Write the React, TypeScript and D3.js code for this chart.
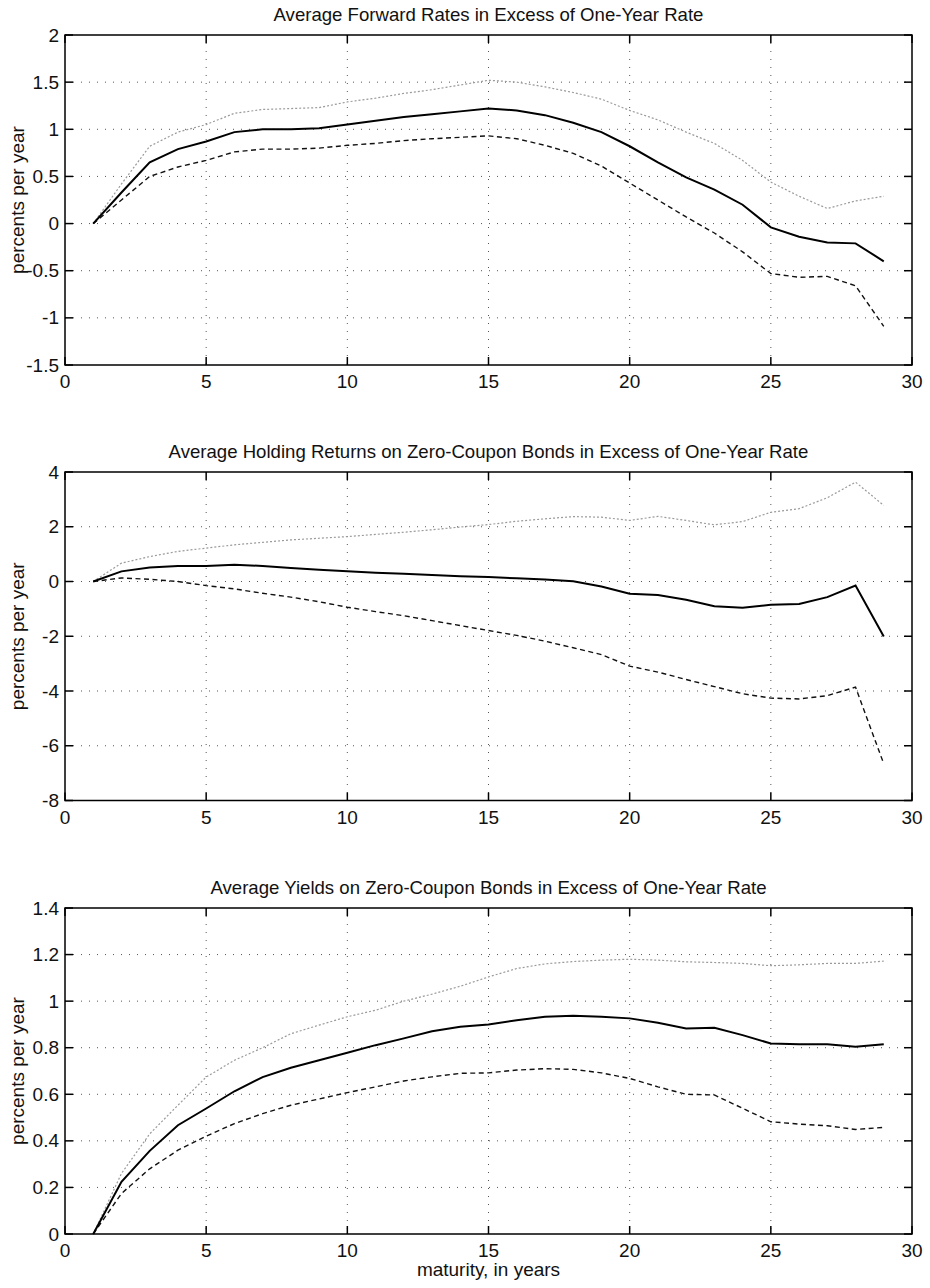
import React from "react";
import * as d3 from "d3";

// maturities in years
const maturities = [
    1, 2, 3, 4, 5, 6, 7, 8, 9, 10, 11, 12, 13, 14, 15, 16, 17, 18, 19, 20, 21,
    22, 23, 24, 25, 26, 27, 28, 29,
];

// panel 1: forward rates
const fwdMean = [
    0, 0.33, 0.65, 0.79, 0.87, 0.97, 1.0, 1.0, 1.01, 1.05, 1.09, 1.13, 1.16,
    1.19, 1.22, 1.2, 1.15, 1.07, 0.97, 0.82, 0.65, 0.49, 0.36, 0.2, -0.04,
    -0.14, -0.2, -0.21, -0.4,
];
const fwdLow = [
    0, 0.25, 0.5, 0.6, 0.67, 0.76, 0.79, 0.79, 0.8, 0.83, 0.85, 0.88, 0.9,
    0.915, 0.93, 0.9, 0.83, 0.745, 0.61, 0.43, 0.25, 0.07, -0.1, -0.3, -0.53,
    -0.57, -0.56, -0.66, -1.09,
];
const fwdHigh = [
    0, 0.42, 0.82, 0.97, 1.05, 1.17, 1.21, 1.22, 1.23, 1.29, 1.33, 1.38, 1.42,
    1.47, 1.52, 1.5, 1.45, 1.39, 1.32, 1.2, 1.1, 0.97, 0.85, 0.67, 0.44, 0.29,
    0.16, 0.24, 0.29,
];

// panel 2: holding returns
const holdMean = [
    0, 0.37, 0.51, 0.57, 0.57, 0.61, 0.57, 0.49, 0.43, 0.37, 0.32, 0.28, 0.24,
    0.19, 0.16, 0.12, 0.07, 0.01, -0.18, -0.45, -0.49, -0.67, -0.9, -0.96,
    -0.85, -0.82, -0.57, -0.15, -2.01,
];
const holdLow = [
    0, 0.13, 0.08, 0, -0.15, -0.27, -0.43, -0.57, -0.74, -0.94, -1.1, -1.25,
    -1.43, -1.61, -1.79, -1.97, -2.18, -2.42, -2.67, -3.09, -3.31, -3.58,
    -3.84, -4.1, -4.26, -4.29, -4.17, -3.86, -6.66,
];
const holdHigh = [
    0, 0.67, 0.91, 1.1, 1.22, 1.34, 1.43, 1.52, 1.58, 1.64, 1.72, 1.8, 1.89,
    1.99, 2.08, 2.2, 2.29, 2.37, 2.35, 2.23, 2.38, 2.23, 2.07, 2.19, 2.53,
    2.66, 3.06, 3.63, 2.78,
];

// panel 3: yields
const yldMean = [
    0, 0.224, 0.357, 0.467, 0.539, 0.613, 0.674, 0.714, 0.746, 0.778, 0.811,
    0.84, 0.871, 0.89, 0.9, 0.918, 0.933, 0.937, 0.933, 0.926, 0.907, 0.883,
    0.886, 0.854, 0.818, 0.815, 0.815, 0.804, 0.815,
];
const yldLow = [
    0, 0.174, 0.28, 0.36, 0.42, 0.474, 0.517, 0.553, 0.58, 0.607, 0.632,
    0.657, 0.675, 0.69, 0.692, 0.704, 0.71, 0.707, 0.692, 0.668, 0.632, 0.6,
    0.597, 0.54, 0.482, 0.472, 0.465, 0.449, 0.458,
];
const yldHigh = [
    0, 0.26, 0.43, 0.553, 0.674, 0.746, 0.8, 0.86, 0.897, 0.933, 0.961, 1.0,
    1.03, 1.064, 1.104, 1.14, 1.16, 1.17, 1.176, 1.18, 1.176, 1.169, 1.166,
    1.162, 1.152, 1.156, 1.162, 1.162, 1.172,
];

const xTicks = [0, 5, 10, 15, 20, 25, 30];
const fwdTicks = [-1.5, -1, -0.5, 0, 0.5, 1, 1.5, 2];
const holdTicks = [-8, -6, -4, -2, 0, 2, 4];
const yldTicks = [0, 0.2, 0.4, 0.6, 0.8, 1, 1.2, 1.4];

const titles = [
    "Average Forward Rates in Excess of One-Year Rate",
    "Average Holding Returns on Zero-Coupon Bonds in Excess of One-Year Rate",
    "Average Yields on Zero-Coupon Bonds in Excess of One-Year Rate",
];

const FONT = "'Liberation Sans', Arial, Helvetica, sans-serif";
const LEFT = 65;
const RIGHT = 912;

type PanelProps = {
    title: string;
    top: number;
    height: number;
    yTicks: number[];
    mean: number[];
    low: number[];
    high: number[];
    xLabel?: boolean;
};

const fmt = (d: number) => String(+d.toFixed(2));

const Panel: React.FC<PanelProps> = ({
    title,
    top,
    height,
    yTicks,
    mean,
    low,
    high,
    xLabel,
}) => {
    const bottom = top + height;
    const x = d3.scaleLinear().domain([0, 30]).range([LEFT, RIGHT]);
    const y = d3
        .scaleLinear()
        .domain([yTicks[0], yTicks[yTicks.length - 1]])
        .range([bottom, top]);

    const mkLine = (vals: number[]) =>
        d3
            .line<number>()
            .x((_, i) => x(maturities[i]))
            .y(d => y(d))(vals) || "";

    const tickLen = 8;

    return (
        <g fontFamily={FONT} fill="#111">
            <text
                x={(LEFT + RIGHT) / 2}
                y={top - 14}
                textAnchor="middle"
                fontSize={18.6}
            >
                {title}
            </text>

            {/* grid */}
            {xTicks.slice(1, -1).map(t => (
                <line
                    key={"gx" + t}
                    x1={x(t)}
                    x2={x(t)}
                    y1={top}
                    y2={bottom}
                    stroke="#555"
                    strokeWidth={1}
                    strokeDasharray="1,7"
                />
            ))}
            {yTicks.slice(1, -1).map(t => (
                <line
                    key={"gy" + t}
                    x1={LEFT}
                    x2={RIGHT}
                    y1={y(t)}
                    y2={y(t)}
                    stroke="#555"
                    strokeWidth={1}
                    strokeDasharray="1,7"
                />
            ))}

            {/* series */}
            <path
                d={mkLine(high)}
                fill="none"
                stroke="#9a9a9a"
                strokeWidth={1.2}
                strokeDasharray="2,2"
            />
            <path
                d={mkLine(low)}
                fill="none"
                stroke="#111"
                strokeWidth={1.4}
                strokeDasharray="5,3.5"
            />
            <path d={mkLine(mean)} fill="none" stroke="#000" strokeWidth={2} />

            {/* box */}
            <rect
                x={LEFT}
                y={top}
                width={RIGHT - LEFT}
                height={height}
                fill="none"
                stroke="#000"
                strokeWidth={1.5}
            />

            {/* ticks */}
            {xTicks.map(t => (
                <g key={"tx" + t}>
                    <line
                        x1={x(t)}
                        x2={x(t)}
                        y1={bottom}
                        y2={bottom - tickLen}
                        stroke="#000"
                        strokeWidth={1.5}
                    />
                    <line
                        x1={x(t)}
                        x2={x(t)}
                        y1={top}
                        y2={top + tickLen}
                        stroke="#000"
                        strokeWidth={1.5}
                    />
                    <text
                        x={x(t)}
                        y={bottom + 23}
                        textAnchor="middle"
                        fontSize={19}
                    >
                        {fmt(t)}
                    </text>
                </g>
            ))}
            {yTicks.map(t => (
                <g key={"ty" + t}>
                    <line
                        x1={LEFT}
                        x2={LEFT + tickLen}
                        y1={y(t)}
                        y2={y(t)}
                        stroke="#000"
                        strokeWidth={1.5}
                    />
                    <line
                        x1={RIGHT}
                        x2={RIGHT - tickLen}
                        y1={y(t)}
                        y2={y(t)}
                        stroke="#000"
                        strokeWidth={1.5}
                    />
                    <text
                        x={LEFT - 6}
                        y={y(t) + 6.5}
                        textAnchor="end"
                        fontSize={19}
                    >
                        {fmt(t)}
                    </text>
                </g>
            ))}

            <text
                transform={`translate(24,${(top + bottom) / 2}) rotate(-90)`}
                textAnchor="middle"
                fontSize={19}
            >
                percents per year
            </text>

            {xLabel && (
                <text
                    x={(LEFT + RIGHT) / 2}
                    y={bottom + 42}
                    textAnchor="middle"
                    fontSize={19}
                >
                    maturity, in years
                </text>
            )}
        </g>
    );
};

const App: React.FC = () => {
    return (
        <svg
            width={930}
            height={1288}
            style={{ position: "absolute", left: 0, top: 0, background: "#fff" }}
        >
            <rect width={930} height={1288} fill="#fff" />
            <Panel
                title={titles[0]}
                top={35}
                height={330}
                yTicks={fwdTicks}
                mean={fwdMean}
                low={fwdLow}
                high={fwdHigh}
            />
            <Panel
                title={titles[1]}
                top={472}
                height={328.5}
                yTicks={holdTicks}
                mean={holdMean}
                low={holdLow}
                high={holdHigh}
            />
            <Panel
                title={titles[2]}
                top={908}
                height={326}
                yTicks={yldTicks}
                mean={yldMean}
                low={yldLow}
                high={yldHigh}
                xLabel
            />
        </svg>
    );
};

export default App;
